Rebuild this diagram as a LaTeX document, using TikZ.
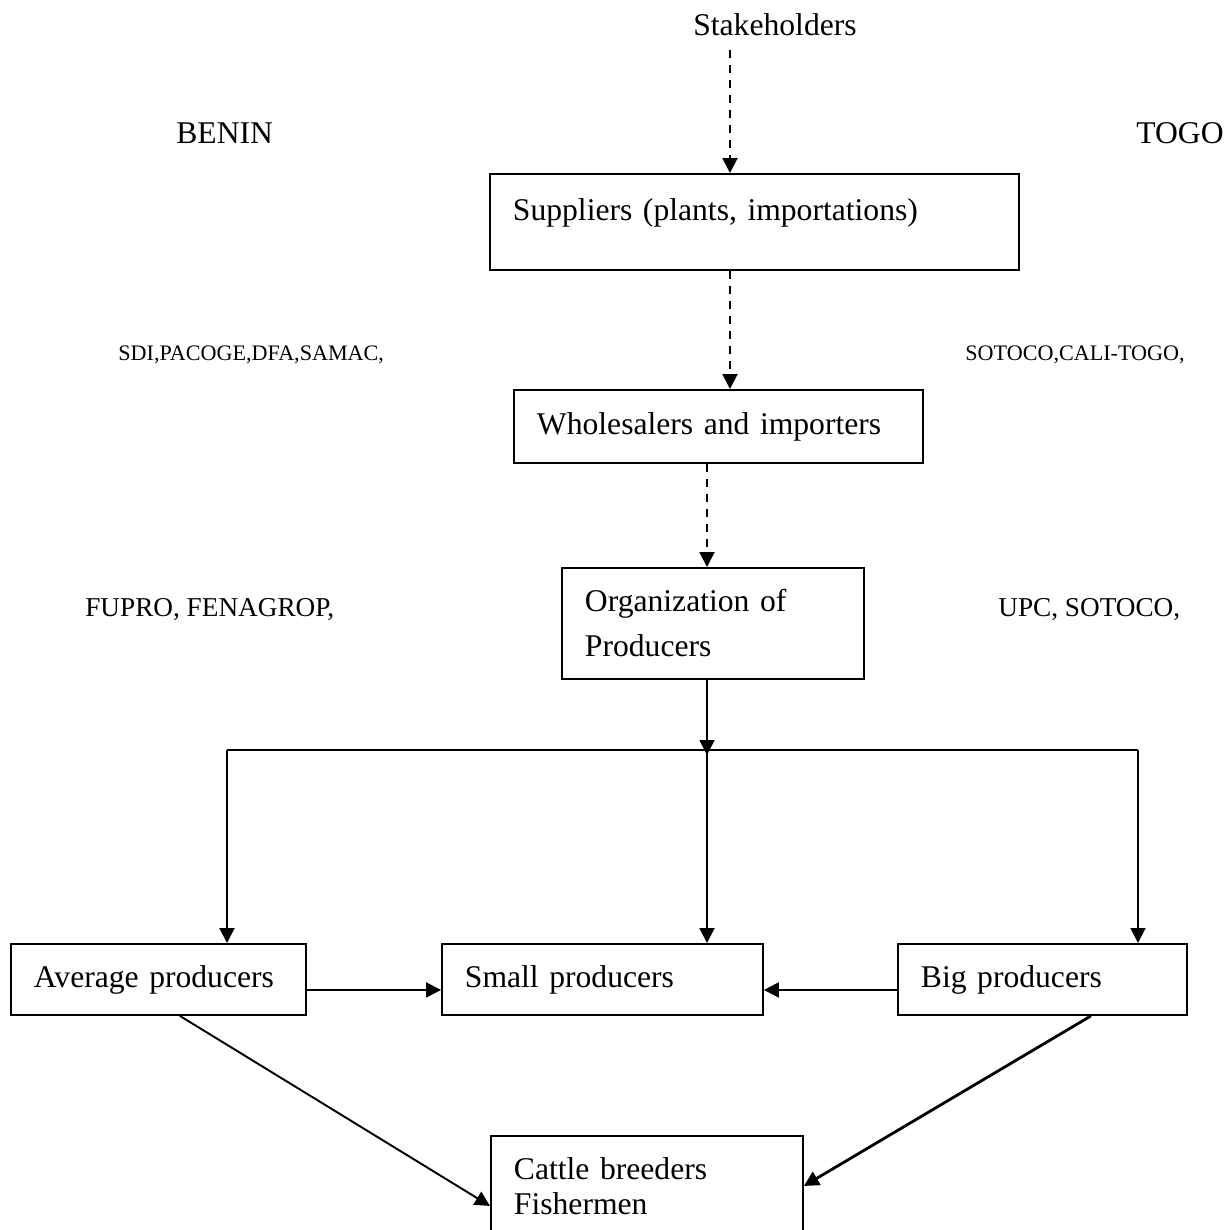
\documentclass[tikz,border=0pt]{standalone}
\usepackage{fontspec}
\setmainfont{Liberation Serif}
\usetikzlibrary{shapes,arrows.meta,positioning}

\begin{document}
\begin{tikzpicture}[x=0.02cm, y=-0.02cm,
                   box/.style={draw, line width=1.1pt, rectangle, anchor=north west, align=left,
                               inner xsep=0.46cm, inner ysep=0pt, font=\fontsize{18}{21}\selectfont},
                   title/.style={inner sep=0pt, font=\fontsize{18}{21}\selectfont},
                   tag/.style={anchor=west, inner sep=0pt, font=\fontsize{12.6}{15}\selectfont},
                   link/.style={line width=1.1pt, -{Triangle[length=0.3cm,width=0.3cm]}},
                   dlink/.style={link, dash pattern=on 0.16cm off 0.14cm}]
          \useasboundingbox (0,0) rectangle (1230,1230);
          \node[title] (stake) at (775,25) {Stakeholders};
          \node[title, anchor=west] (benin) at (176,133) {BENIN};
          \node[title, anchor=west] (togo) at (1136,133) {TOGO};
          \node[box, text width=9.66cm, minimum height=1.92cm, text depth=0.5cm] (supp) at (489,173) {Suppliers (plants, importations)};
          \node[tag] (tagsdi) at (118,355) {SDI,PACOGE,DFA,SAMAC,};
          \node[tag] (tagsot) at (965,355) {SOTOCO,CALI-TOGO,};
          \node[box, text width=7.26cm, minimum height=1.46cm] (whole) at (513,389) {Wholesalers and importers};
          \node[tag, font=\fontsize{15.5}{18}\selectfont] (tagfup) at (85,610) {FUPRO, FENAGROP,};
          \node[tag, font=\fontsize{15.5}{18}\selectfont] (tagupc) at (998,610) {UPC, SOTOCO,};
          \node[box, text width=5.12cm, minimum height=2.22cm, font=\fontsize{18}{25.6}\selectfont] (org) at (561,567) {Organization of\\Producers};
          \node[box, text width=4.98cm, minimum height=1.42cm] (avg) at (10,943) {Average producers};
          \node[box, text width=5.5cm, minimum height=1.42cm] (small) at (441,943) {Small producers};
          \node[box, text width=4.86cm, minimum height=1.42cm] (big) at (897,943) {Big producers};
          \node[box, text width=5.32cm, minimum height=2cm, font=\fontsize{18}{20}\selectfont] (cattle) at (490,1135) {Cattle breeders\\Fishermen};
          \coordinate (c1) at (730,50);
          \coordinate (c2) at (707,0);
          \coordinate (hub) at (707,750);
          \coordinate (lcol) at (227,750);
          \coordinate (rcol) at (1138,750);
          \draw[dlink] (c1) -- (c1 |- supp.north);
          \draw[dlink] (supp.south -| c1) -- (whole.north -| c1);
          \draw[dlink] (whole.south -| c2) -- (org.north -| c2);
          \draw[link] (org.south -| c2) -- ([yshift=-0.1cm]hub);
          \draw[line width=1.1pt] (lcol) -- (rcol);
          \draw[link] (lcol) -- (lcol |- avg.north);
          \draw[link] (hub) -- (hub |- small.north);
          \draw[link] (rcol) -- (rcol |- big.north);
          \draw[link] ([yshift=-0.21cm]avg.east) -- ([yshift=-0.21cm]small.west);
          \draw[link] ([yshift=-0.21cm]big.west) -- ([yshift=-0.21cm]small.east);
          \draw[link] ([xshift=0.43cm]avg.south) -- ([yshift=-0.4cm]cattle.west);
          \draw[link, line width=1.6pt] ([xshift=0.97cm]big.south) -- (cattle.east);
        \end{tikzpicture}
\end{document}
